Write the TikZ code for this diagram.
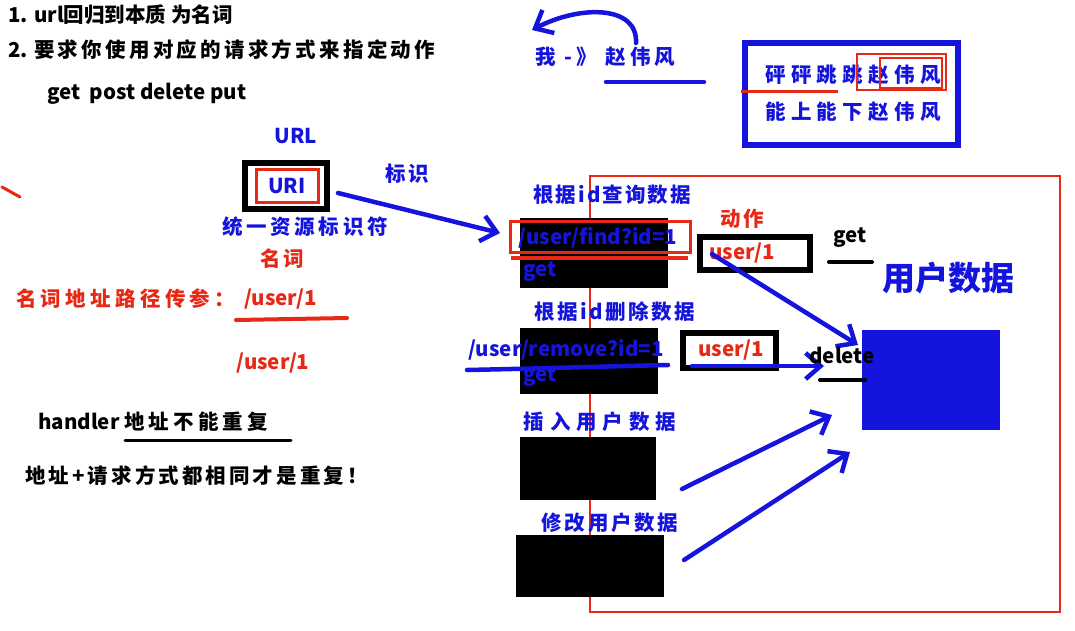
\documentclass[tikz,border=0pt]{standalone}
\usepackage{fontspec}
\setmainfont{Noto Sans CJK SC}
\usetikzlibrary{arrows.meta}
\definecolor{bl}{RGB}{20,20,220}
\definecolor{rd}{RGB}{230,40,20}
\newcommand{\ls}[2]{{\addfontfeatures{LetterSpace=#1}#2}}
\tikzset{
 t/.style={font=\bfseries\fontsize{20.5}{24}\selectfont,inner sep=0pt},
 tb/.style={t,text=bl},
 tr/.style={t,text=rd},
 pen/.style={line width=4.5pt,line cap=round,bl},
 arr/.style={pen,-{Straight Barb[length=15pt,width=26pt]}},
}
\begin{document}
\begin{tikzpicture}[x=1pt,y=-1pt]
\path[use as bounding box,fill=white] (0,0) rectangle (1075,630);
\node[t,anchor=west] (l1) at (8,15) {1. url回归到本质 为名词};
\node[t,anchor=west] (l2) at (8,50) {2. \ls{16}{要求你使用对应的请求方式来指定动作}};
\node[t,anchor=west] (l3) at (47,94) {get\ \ post delete put};
\node[tb] (url) at (296,136) {URL};
\draw[line width=6pt] (245,163) rectangle (327,209);
\draw[rd,line width=3pt] (256,169) rectangle (318,202);
\node[tb] (uri) at (287,186) {URI};
\node[tb] (tyzy) at (305,227) {\ls{18}{统一资源标识符}};
\node[tr] (mc) at (282,259) {\ls{10}{名词}};
\node[tb] (bs) at (407,174) {\ls{10}{标识}};
\draw[rd,line width=3pt,line cap=round] (2,187) -- (20,197);
\node[tr,anchor=west] (mcd) at (16,299) {\ls{21}{名词地址路径传参：}};
\node[tr,anchor=west] (u1) at (244,299) {/user/1};
\draw[rd,line width=4pt,line cap=round] (236,320) -- (347,318);
\node[tr] (u2) at (273,363) {/user/1};
\node[t,anchor=west] (hd) at (38,422) {handler\ \ls{20}{地址不能重复}};
\draw[line width=3pt,line cap=round] (125,440) -- (291,440);
\node[t,anchor=west] (cf) at (25,476) {\ls{15}{地址+请求方式都相同才是重复！}};
\node[tb,anchor=west] (wo) at (535,57) {\ls{20}{我 -》 赵伟风}};
\draw[arr] (636,43) .. controls (638,5) and (580,5) .. (532,30);
\draw[pen] (606,82) -- (704,82);
\draw[bl,line width=6pt] (745,43) rectangle (958,145);
\node[tb,anchor=west] (pp) at (765,75) {\ls{26}{砰砰跳跳赵伟风}};
\node[tb,anchor=west] (ns) at (765,112) {\ls{26}{能上能下赵伟风}};
\draw[rd,line width=2pt] (857,54) rectangle (946,90);
\draw[rd,line width=2pt] (880,58) rectangle (942,88);
\draw[rd,line width=3pt] (741,91) -- (838,91);
\draw[rd,line width=2pt] (590,176) rectangle (1060,612);
\node[tb] (cx) at (612,195) {\ls{10}{根据id查询数据}};
\fill (520,218) rectangle (668,288);
\draw[rd,line width=3pt] (510,221) rectangle (690,252);
\node[tb] (find) at (598,238) {/user/find?id=1};
\draw[rd,line width=4pt] (511,258) -- (688,258);
\node[tb] (g1) at (540,272) {get};
\node[tr] (dz) at (742,219) {\ls{10}{动作}};
\draw[line width=6pt] (700,237) rectangle (810,270);
\node[tr] (uf) at (742,253) {user/1};
\node[t] (get) at (850,238) {get};
\draw[line width=4pt,line cap=round] (829,262) -- (872,262);
\node[tb,font=\bfseries\fontsize{33}{36}\selectfont] (yh) at (948,278) {用户数据};
\fill[bl] (862,330) rectangle (1000,430);
\draw[arr] (712,254) -- (858,345);
\node[tb] (sc) at (615,312) {\ls{12}{根据id删除数据}};
\fill (520,328) rectangle (658,394);
\node[tb] (rm) at (566,350) {/user/remove?id=1};
\draw[pen] (467,370) .. controls (560,368) and (620,366) .. (668,365);
\node[tb] (g2) at (540,377) {get};
\draw[line width=6pt] (683,333) rectangle (776,368);
\node[tr] (ur) at (731,350) {user/1};
\draw[arr] (692,366) -- (824,366);
\node[t] (del) at (842,355) {delete};
\draw[line width=4pt,line cap=round] (820,380) -- (865,380);
\node[tb] (cr) at (600,422) {\ls{29}{插入用户数据}};
\fill (520,437) rectangle (656,500);
\node[tb] (xg) at (610,523) {\ls{13}{修改用户数据}};
\fill (516,535) rectangle (664,597);
\draw[arr] (682,489) -- (832,415);
\draw[arr] (684,560) -- (850,452);
\draw[arr] (338,193) -- (500,233);
\end{tikzpicture}
\end{document}
